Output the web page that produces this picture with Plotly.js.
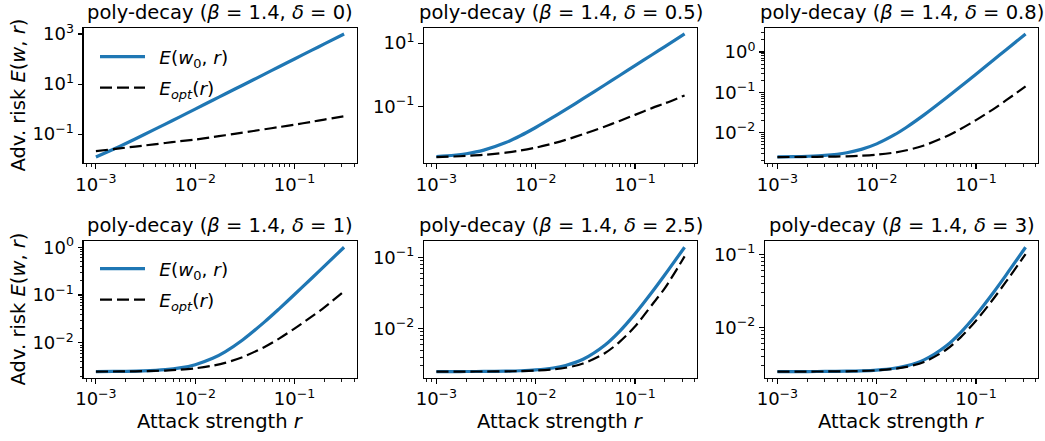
<!DOCTYPE html>
<html><head><meta charset="utf-8">
<script src="https://cdn.plot.ly/plotly-3.0.1.min.js"></script>
<style>body{margin:0;background:#fff;} #chart{width:1045px;height:441px;}</style>
</head><body><div id="chart"></div>
<script>
// ---------------- data ----------------
const r = [0.001, 0.0015, 0.002, 0.003, 0.005, 0.007, 0.01, 0.015, 0.02, 0.03, 0.05, 0.07, 0.1, 0.15, 0.2, 0.316];

const titles = [
  'poly-decay (<i>β</i> = 1.4, <i>δ</i> = 0)',
  'poly-decay (<i>β</i> = 1.4, <i>δ</i> = 0.5)',
  'poly-decay (<i>β</i> = 1.4, <i>δ</i> = 0.8)',
  'poly-decay (<i>β</i> = 1.4, <i>δ</i> = 1)',
  'poly-decay (<i>β</i> = 1.4, <i>δ</i> = 2.5)',
  'poly-decay (<i>β</i> = 1.4, <i>δ</i> = 3)'
];
const seriesNames = ['\u2002<i>E</i>(<i>w</i><sub>0</sub>, <i>r</i>)', '\u2002<i>E<sub>opt</sub></i>(<i>r</i>)'];
const xLabel = 'Attack strength <i>r</i>';
const yLabel = 'Adv. risk <i>E</i>(<i>w</i>, <i>r</i>)';

// δ = 0
const risk0_d0   = [0.0122, 0.025, 0.0425, 0.0925, 0.2525, 0.49, 1.0, 2.25, 4.0, 9.0, 25, 49, 100, 225, 400, 1000];
const riskOpt_d0 = [0.0211, 0.0253, 0.0289, 0.0348, 0.0445, 0.0522, 0.0610, 0.0765, 0.0903, 0.1150, 0.1570, 0.192, 0.238, 0.313, 0.382, 0.519];
// δ = 0.5
const risk0_d05   = [0.00268, 0.00294, 0.00328, 0.00426, 0.00738, 0.01206, 0.0220, 0.0464, 0.0805, 0.178, 0.490, 0.958, 1.95, 4.39, 7.80, 19.5];
const riskOpt_d05 = [0.00258, 0.00268, 0.00280, 0.00303, 0.00355, 0.00414, 0.00511, 0.00694, 0.00895, 0.0135, 0.0238, 0.0355, 0.0550, 0.0914, 0.127, 0.225];
// δ = 0.8
const risk0_d08   = [0.00253, 0.00256, 0.00261, 0.00275, 0.0032, 0.00387, 0.0053, 0.0088, 0.0137, 0.0277, 0.0725, 0.1397, 0.2825, 0.6325, 1.1225, 2.80];
const riskOpt_d08 = [0.00250, 0.00251, 0.00252, 0.00255, 0.00261, 0.00270, 0.00286, 0.00322, 0.00368, 0.00484, 0.00807, 0.01239, 0.0206, 0.0386, 0.063, 0.14];
// δ = 1
const risk0_d1   = [0.00251, 0.002523, 0.00254, 0.00259, 0.00275, 0.00299, 0.0035, 0.00475, 0.0065, 0.0115, 0.0275, 0.0515, 0.1025, 0.2275, 0.4025, 1.0];
const riskOpt_d1 = [0.00251, 0.00252, 0.00253, 0.00256, 0.00264, 0.00275, 0.00294, 0.00334, 0.00382, 0.00503, 0.00823, 0.0123, 0.0199, 0.0358, 0.0552, 0.12];
// δ = 2.5
const risk0_d25   = [0.00250, 0.002502, 0.002505, 0.002512, 0.002534, 0.002567, 0.002636, 0.002806, 0.003044, 0.003724, 0.0059, 0.009164, 0.0161, 0.0331, 0.0569, 0.1385];
const riskOpt_d25 = [0.00250, 0.002501, 0.002503, 0.002507, 0.00252, 0.00254, 0.002582, 0.002685, 0.002828, 0.003238, 0.00455, 0.006518, 0.0107, 0.022, 0.037, 0.103];
// δ = 3
const risk0_d3   = [0.0025012, 0.0025028, 0.0025049, 0.0025111, 0.0025309, 0.0025605, 0.0026235, 0.0027779, 0.002994, 0.0036115, 0.0055875, 0.0085515, 0.01485, 0.030288, 0.0519, 0.1258];
const riskOpt_d3 = [0.002501, 0.0025022, 0.002504, 0.0025089, 0.0025248, 0.0025485, 0.002599, 0.0027228, 0.002896, 0.003391, 0.004975, 0.007351, 0.0124, 0.024775, 0.0421, 0.1014];

const xTickVals = [0.001, 0.01, 0.1];
const yTickVals = [
  [0.1, 10, 1000],
  [0.1, 10],
  [0.01, 0.1, 1],
  [0.01, 0.1, 1],
  [0.01, 0.1],
  [0.01, 0.1]
];
const yMinorOn = [false, false, true, true, true, true];

// ---------------- layout helpers ----------------
const W = 1045, H = 441;
const colPx = [[83.5, 356.5], [424, 697], [765, 1038]];
const rowPx = [[27.8, 163.2], [241, 377.8]];
const FONT = 'DejaVu Sans, sans-serif';
const BLUE = '#1f77b4';
const TXT = 19.5, TICK = 18, LEG = 18.5;

const panelSeries = [
  [risk0_d0, riskOpt_d0], [risk0_d05, riskOpt_d05], [risk0_d08, riskOpt_d08],
  [risk0_d1, riskOpt_d1], [risk0_d25, riskOpt_d25], [risk0_d3, riskOpt_d3]
];

function supLabel(v) {
  const e = Math.round(Math.log10(v));
  return '10<sup>' + (e < 0 ? '\u2212' + (-e) : e) + '</sup>';
}
function paddedLogRange(arrs) {
  let lo = Infinity, hi = -Infinity;
  arrs.forEach(a => a.forEach(v => { const l = Math.log10(v); if (l < lo) lo = l; if (l > hi) hi = l; }));
  const m = 0.05 * (hi - lo);
  return [lo - m, hi + m];
}
function minorVals(range) {
  const out = [];
  for (let k = Math.floor(range[0]) - 1; k <= Math.ceil(range[1]); k++) {
    for (let s = 2; s <= 9; s++) {
      const v = s * Math.pow(10, k);
      const l = Math.log10(v);
      if (l >= range[0] && l <= range[1]) out.push(v);
    }
  }
  return out;
}

const traces = [];
const layout = {
  width: W, height: H,
  margin: {l: 0, r: 0, t: 0, b: 0},
  paper_bgcolor: '#fff', plot_bgcolor: '#fff',
  font: {family: FONT, color: '#000', size: TICK},
  showlegend: true,
  annotations: []
};

const xRange = paddedLogRange([r]);

for (let i = 0; i < 6; i++) {
  const row = Math.floor(i / 3), col = i % 3;
  const xa = i === 0 ? 'x' : 'x' + (i + 1);
  const ya = i === 0 ? 'y' : 'y' + (i + 1);
  const xKey = i === 0 ? 'xaxis' : 'xaxis' + (i + 1);
  const yKey = i === 0 ? 'yaxis' : 'yaxis' + (i + 1);
  const [s0, s1] = panelSeries[i];
  const legId = i === 0 ? 'legend' : (i === 3 ? 'legend2' : null);

  traces.push({
    x: r, y: s0, xaxis: xa, yaxis: ya, type: 'scatter', mode: 'lines',
    name: seriesNames[0], line: {color: BLUE, width: 3.2, shape: 'spline', smoothing: 0.8},
    showlegend: !!legId, legend: legId || 'legend', legendgroup: 'g0_' + i
  });
  traces.push({
    x: r, y: s1, xaxis: xa, yaxis: ya, type: 'scatter', mode: 'lines',
    name: seriesNames[1], line: {color: '#000', width: 2.2, dash: '12px,5px', shape: 'spline', smoothing: 0.8},
    showlegend: !!legId, legend: legId || 'legend', legendgroup: 'g1_' + i
  });

  const yRange = paddedLogRange([s0, s1]);
  const common = {
    type: 'log', showgrid: false, zeroline: false,
    showline: true, linecolor: '#000', linewidth: 1.1, mirror: true,
    ticks: 'outside', ticklen: 4.9, tickwidth: 1.1, tickcolor: '#000',
    tickfont: {family: FONT, size: TICK, color: '#000'},
    tickmode: 'array', fixedrange: true
  };
  layout[xKey] = Object.assign({}, common, {
    domain: [colPx[col][0] / W, colPx[col][1] / W],
    anchor: ya, range: xRange,
    tickvals: xTickVals, ticktext: xTickVals.map(supLabel),
    minor: {tickmode: 'array', tickvals: minorVals(xRange), ticks: 'outside', ticklen: 2.8, tickwidth: 0.9, tickcolor: '#000', showgrid: false}
  });
  const yax = Object.assign({}, common, {
    domain: [1 - rowPx[row][1] / H, 1 - rowPx[row][0] / H],
    anchor: xa, range: yRange,
    tickvals: yTickVals[i], ticktext: yTickVals[i].map(supLabel)
  });
  if (yMinorOn[i]) {
    yax.minor = {tickmode: 'array', tickvals: minorVals(yRange), ticks: 'outside', ticklen: 2.8, tickwidth: 0.9, tickcolor: '#000', showgrid: false};
  }
  layout[yKey] = yax;

  layout.annotations.push({
    text: titles[i], xref: xa + ' domain', yref: ya + ' domain', x: 0.5, y: 1,
    xanchor: 'center', yanchor: 'bottom', yshift: 2, showarrow: false,
    font: {family: FONT, size: TXT, color: '#000'}
  });
  if (row === 1) {
    layout.annotations.push({
      text: xLabel, xref: xa + ' domain', yref: 'paper', x: 0.5, y: 1 - 421 / H,
      xanchor: 'center', yanchor: 'middle', showarrow: false,
      font: {family: FONT, size: TXT, color: '#000'}
    });
  }
  if (col === 0) {
    layout.annotations.push({
      text: yLabel, xref: 'paper', yref: ya + ' domain', x: 18 / W, y: 0.5,
      xanchor: 'center', yanchor: 'middle', textangle: -90, showarrow: false,
      font: {family: FONT, size: TXT, color: '#000'}
    });
  }
}

const legendCommon = {
  xanchor: 'left', yanchor: 'top', bgcolor: 'rgba(0,0,0,0)', borderwidth: 0,
  font: {family: FONT, size: LEG, color: '#000'},
  traceorder: 'grouped', tracegroupgap: 4, itemwidth: 45
};
layout.legend = Object.assign({}, legendCommon, {x: 95 / W, y: 1 - 38 / H});
layout.legend2 = Object.assign({}, legendCommon, {x: 95 / W, y: 1 - 250 / H});

Plotly.newPlot('chart', traces, layout, {staticPlot: true, displayModeBar: false});
</script>
</body></html>
